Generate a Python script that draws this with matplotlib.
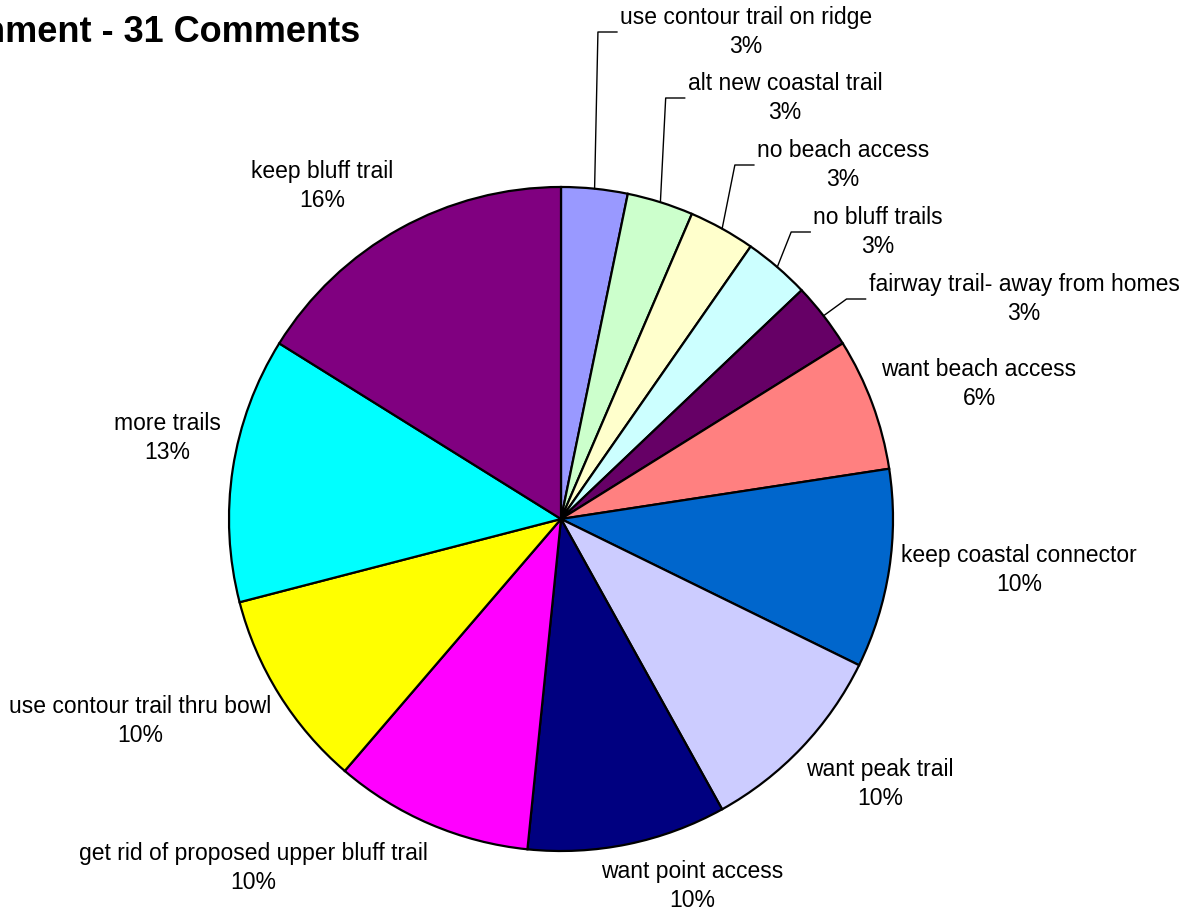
import matplotlib.pyplot as plt
import numpy as np

plt.rcParams['font.family'] = ['Liberation Sans', 'DejaVu Sans']

# comment categories, clockwise from 12 o'clock
labels = ["use contour trail on ridge", "alt new coastal trail", "no beach access",
          "no bluff trails", "fairway trail- away from homes", "want beach access",
          "keep coastal connector", "want peak trail", "want point access",
          "get rid of proposed upper bluff trail", "use contour trail thru bowl",
          "more trails", "keep bluff trail"]
counts = [1, 1, 1, 1, 1, 2, 3, 3, 3, 3, 3, 4, 5]
colors = ["#9999FF", "#CCFFCC", "#FFFFCC", "#CCFFFF", "#660066", "#FF8080",
          "#0066CC", "#CCCCFF", "#000080", "#FF00FF", "#FFFF00", "#00FFFF", "#800080"]

# label centres in pixels (from top-left) and whether a leader line is drawn
label_pos = [(746, 32), (785, 98), (843, 165), (878, 232), (1024, 299), (979, 384),
             (1019, 570), (880, 784), (692, 886), (253, 868), (140, 721), (167, 438),
             (322, 186)]
leader = [True, True, True, True, True] + [False] * 8

W, H = 1186, 913
fig = plt.figure(figsize=(W / 100, H / 100), dpi=100)
ax = fig.add_axes([0, 0, 1, 1])

cx, cy, r = 561, H - 519, 332
wedges, _ = ax.pie(counts, colors=colors, startangle=90, counterclock=False,
                   center=(cx, cy), radius=r,
                   wedgeprops=dict(edgecolor='black', linewidth=1.6))
ax.set_xlim(0, W)
ax.set_ylim(0, H)
ax.set_aspect('equal')
ax.axis('off')

total = sum(counts)
texts = []
for lab, c, (x, y) in zip(labels, counts, label_pos):
    pct = round(100 * c / total)
    t = ax.text(x, H - y, f"{lab}\n{pct}%", ha='center', va='center',
                multialignment='center', fontsize=16.5, linespacing=1.38)
    texts.append(t)

fig.text(360 / W, 1 - 32 / H, "Trail Alignment - 31 Comments", ha='right', va='center',
         fontsize=26, fontweight='bold')

fig.canvas.draw()
inv = ax.transData.inverted()
for w, t, (x, y), lead in zip(wedges, texts, label_pos, leader):
    if not lead:
        continue
    bb = t.get_window_extent()
    x_left = inv.transform((bb.x0, bb.y1))[0]
    mid = np.deg2rad((w.theta1 + w.theta2) / 2)
    sx, sy = cx + r * np.cos(mid), cy + r * np.sin(mid)
    ey = H - y
    ax.plot([sx, x_left - 22, x_left - 3], [sy, ey, ey], color='black', linewidth=1)

fig.savefig("out.png", dpi=100)
